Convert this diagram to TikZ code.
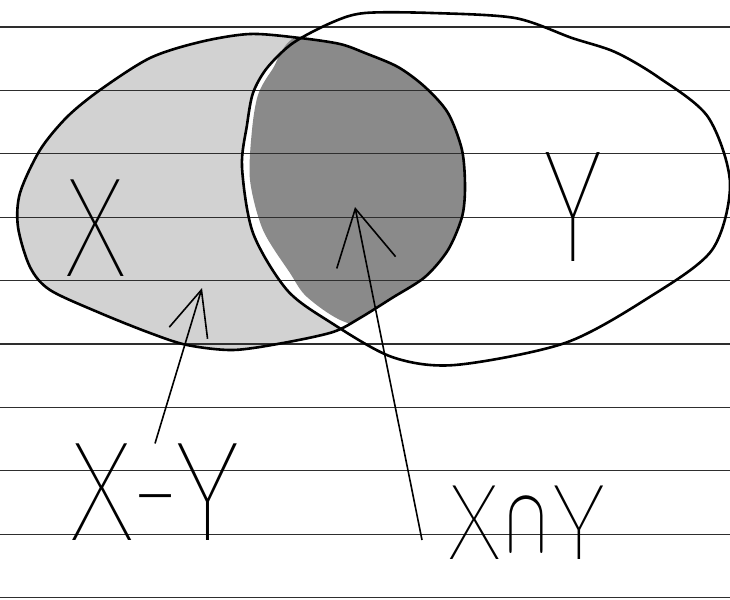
\documentclass[tikz,border=0pt]{standalone}
\usepackage{fontspec}
\IfFontExistsTF{Fira Sans Thin}{\newfontfamily\handfont{Fira Sans Thin}}{%
  \IfFontExistsTF{Poppins Thin}{\newfontfamily\handfont{Poppins Thin}}{\newfontfamily\handfont{DejaVu Sans ExtraLight}}}
\usepackage{xcolor}
\definecolor{LightShade}{HTML}{D2D2D2}
\definecolor{DarkShade}{HTML}{8A8A8A}
\definecolor{RuleGray}{HTML}{2E2E2E}
\usetikzlibrary{arrows.meta}
\newcommand{\narrow}[2][0.88]{\scalebox{#1}[1]{#2}}
\newcommand{\setX}{plot[smooth cycle] coordinates {(20,193) (40,150) (67,117) (100,90) (150,58) (200,42) (250,34) (300,38) (340,44) (365,53) (398,67) (425,87) (448,113) (462,150) (465,187) (462,217) (448,250) (425,277) (392,298) (360,318) (333,332) (283,343) (233,350) (187,345) (150,333) (100,313) (50,290) (30,267) (18,227)}}
\newcommand{\setY}{plot[smooth cycle] coordinates {(365,13) (432,13) (515,18) (572,38) (615,52) (658,77) (708,117) (730,183) (712,250) (648,298) (565,343) (455,365) (392,357) (330,322) (287,290) (253,233) (242,167) (247,125) (253,93) (267,68) (293,43) (333,22)}}

\begin{document}
\begin{tikzpicture}[x=1pt,y=-1pt,
  outline/.style={line width=2.6pt, line join=round},
  paperline/.style={RuleGray, line width=1.2pt},
  pointer/.style={line width=1.6pt, -{Straight Barb[length=45pt,width=40pt]}},
  hand/.style={inner sep=0pt, font=\handfont\fontsize{142}{146}\selectfont}]
  \useasboundingbox (0,0) rectangle (730,599);
  \fill[LightShade] \setX;
  \begin{scope}
    \clip \setX;
    \fill[white] \setY;
    \fill[DarkShade] plot[smooth cycle] coordinates {(272,70) (300,35) (400,30) (500,100) (500,250) (400,330) (345,322) (307,297) (290,273) (263,230) (250,180) (252,130) (258,95)};
  \end{scope}
  \foreach \y in {0,...,9}{\draw[paperline] (0,27+63.4*\y) -- (730,27+63.4*\y);}
  \draw[outline] \setX;
  \draw[outline] \setY;
  \node[hand] (xname) at (96,228) {\narrow{X}};
  \node[hand, font=\handfont\fontsize{160}{165}\selectfont] (yname) at (573,207) {\narrow[0.75]{Y}};
  \node[hand] (xylab) at (155,492) {\narrow[0.92]{X-Y}};
  \node[hand, anchor=west, font=\handfont\fontsize{108}{112}\selectfont] (xnylab) at (448,523) {X\kern6pt\raisebox{8pt}{\scalebox{2.4}[3.75]{$\cap$}}\kern6pt Y};
  \coordinate (xyhead) at (202,288);
  \coordinate (xnyhead) at (355,207);
  \draw[pointer] (xylab.north) -- (xyhead);
  \draw[pointer, -{Straight Barb[length=55pt,width=60pt]}] ([xshift=-26pt,yshift=-17pt]xnylab.west) -- (xnyhead);
\end{tikzpicture}
\end{document}
